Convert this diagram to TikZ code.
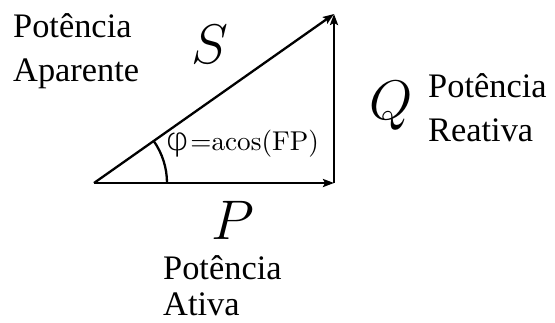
\RequirePackage{fix-cm}
\documentclass[tikz,border=0pt]{standalone}
\usepackage{fontspec}
\setmainfont{Liberation Serif}
\newfontfamily\lmrom{lmroman10-regular.otf}
\newfontfamily\dvs{DejaVuSans-ExtraLight.ttf}
\usetikzlibrary{arrows.meta}
\tikzset{
  vec/.style={line width=2.3bp, -{Stealth[length=11bp,width=8bp,inset=2bp]}},
  lbl/.style={font=\rmfamily\fontsize{34.5}{45}\selectfont, align=left, inner sep=0pt},
  sym/.style={font=\fontsize{56}{60}\selectfont, inner sep=0pt},
}
\begin{document}
\begin{tikzpicture}[x=1bp,y=-1bp]
\useasboundingbox (0,0) rectangle (555,322);
\coordinate (O) at (94,183);
\coordinate (A) at (334,183);
\coordinate (T) at (334,14);
\draw[vec] (O) -- (A);
\draw[vec] (A) -- (T);
\draw[vec] (O) -- (T);
\draw[line width=2.3bp] ([xshift=73bp]O) arc[start angle=0, end angle=35.26, radius=73bp];
\node[sym] (S) at (210,44) {$S$};
\node[sym] (Q) at (391,106) {$Q$};
\node[sym] (P) at (233,220) {$P$};
\node[anchor=west, inner sep=0pt, font=\lmrom\fontsize{27.3}{30}\selectfont] (phi) at (165,144) {{\dvs\fontsize{32}{30}\selectfont\addfontfeatures{FakeStretch=1.15}φ}\kern1bp=acos(FP)};
\node[lbl, anchor=north west] (ap) at (13,13) {Potência\\Aparente};
\node[lbl, anchor=north west] (re) at (428,73) {Potência\\Reativa};
\node[lbl, anchor=north west, font=\rmfamily\fontsize{34.5}{37}\selectfont] (at) at (163,255) {Potência\\Ativa};
\end{tikzpicture}
\end{document}
